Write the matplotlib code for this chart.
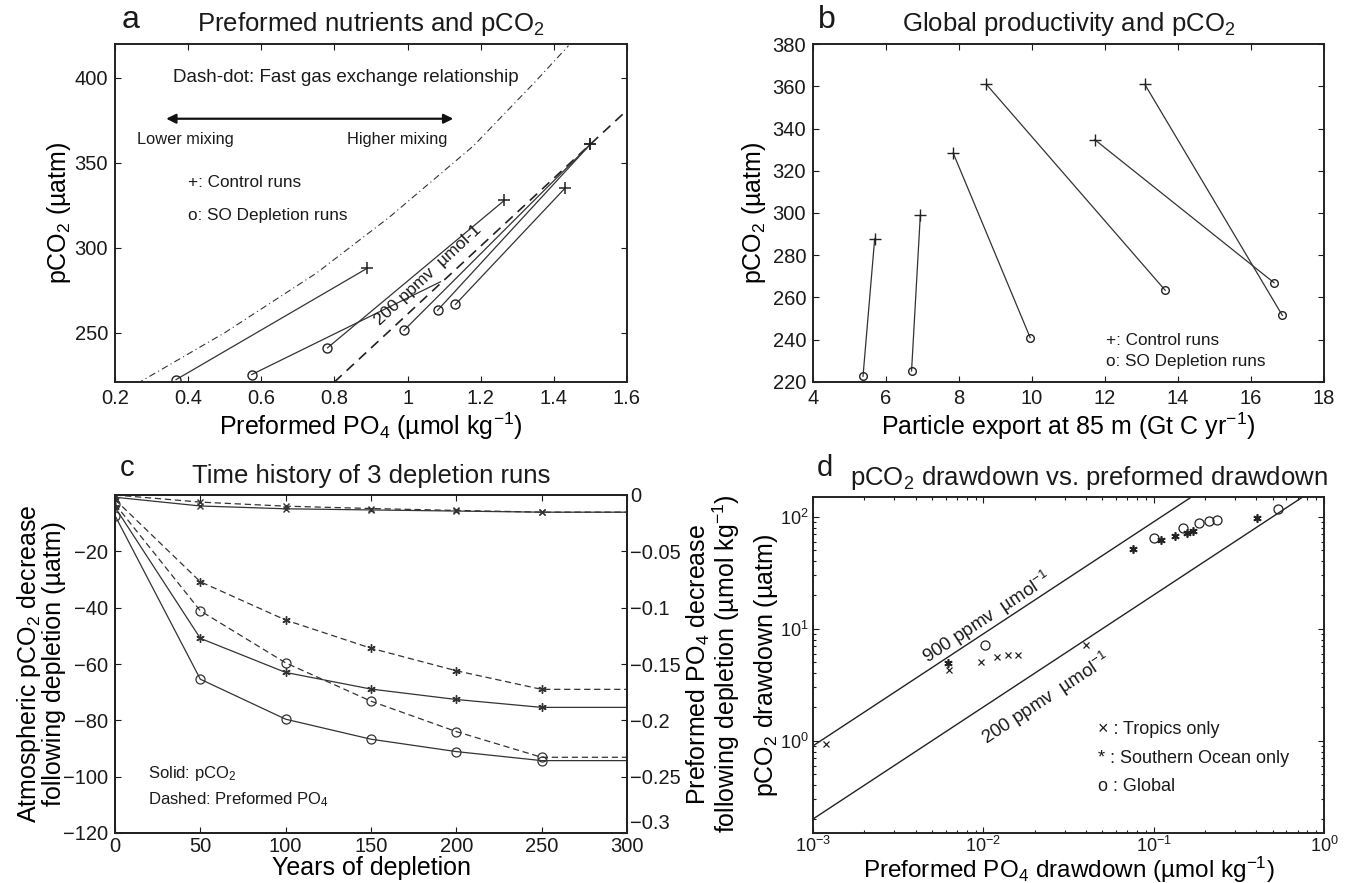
import numpy as np
import matplotlib
matplotlib.use("Agg")
import matplotlib.pyplot as plt

plt.rcParams['font.family'] = ['Liberation Sans', 'DejaVu Sans']
plt.rcParams['mathtext.fontset'] = 'custom'
plt.rcParams['mathtext.rm'] = 'Liberation Sans'
plt.rcParams['mathtext.it'] = 'Liberation Sans:italic'
plt.rcParams['mathtext.bf'] = 'Liberation Sans:bold'
plt.rcParams['xtick.direction'] = 'in'
plt.rcParams['ytick.direction'] = 'in'
plt.rcParams['axes.linewidth'] = 1.4
plt.rcParams['text.color'] = '#1a1a1a'

TXT = '#1a1a1a'
LC = '#333333'
MU = '\u00b5'

# ---------------- Panel a data ----------------
a_ctrl_po4 = [0.89, 1.09, 1.265, 1.50, 1.50, 1.43]
a_ctrl_pco2 = [288, 280, 328, 361, 361, 335]
a_ctrl_marked = [True, False, True, True, True, True]
a_depl_po4 = [0.367, 0.574, 0.781, 0.990, 1.082, 1.131]
a_depl_pco2 = [222.4, 225.4, 241.1, 251.4, 263.2, 266.7]
a_fast_po4 = [0.26, 0.50, 0.75, 0.95, 1.18, 1.35, 1.44]
a_fast_pco2 = [220, 250, 285, 318, 360, 398, 419]
a_line200_po4 = [0.80, 1.60]
a_line200_pco2 = [221, 381]

# ---------------- Panel b data ----------------
b_ctrl_export = [5.69, 6.94, 7.84, 8.75, 11.72, 13.09]
b_ctrl_pco2 = [287.8, 298.9, 328.4, 360.9, 334.7, 360.9]
b_depl_export = [5.37, 6.70, 9.95, 13.65, 16.63, 16.86]
b_depl_pco2 = [222.7, 225.2, 241.0, 263.4, 267.0, 251.5]

# ---------------- Panel c data ----------------
c_years = [0, 50, 100, 150, 200, 250, 300]
c_trop_pco2 = [-0.8, -3.9, -4.9, -5.3, -5.7, -6.1, -6.1]
c_so_pco2 = [-4.3, -50.9, -63.0, -68.9, -72.6, -75.4, -75.4]
c_glob_pco2 = [-7.3, -65.4, -79.6, -86.7, -91.1, -94.3, -94.3]
c_trop_po4 = [0.0, -0.0063, -0.0099, -0.0120, -0.0137, -0.0152, -0.0152]
c_so_po4 = [-0.004, -0.077, -0.111, -0.136, -0.156, -0.1725, -0.1725]
c_glob_po4 = [-0.008, -0.1028, -0.149, -0.183, -0.210, -0.2328, -0.2328]

# ---------------- Panel d data ----------------
d_trop_po4 = [0.0012, 0.0063, 0.0097, 0.0121, 0.0140, 0.0159, 0.0399]
d_trop_pco2 = [0.93, 4.3, 5.0, 5.6, 5.8, 5.8, 7.1]
d_so_po4 = [0.0062, 0.076, 0.111, 0.134, 0.157, 0.170, 0.402]
d_so_pco2 = [4.9, 51, 62, 67, 72, 74, 97]
d_glob_po4 = [0.0102, 0.1005, 0.148, 0.184, 0.210, 0.235, 0.54]
d_glob_pco2 = [7.2, 64.6, 80, 87, 92, 93, 118]
d_ref_po4 = [0.001, 1.0]
d_ref_slopes = [900, 200]

W, H = 1350, 883
fig = plt.figure(figsize=(W / 100, H / 100), dpi=100)

TITLE_FS = 18.5
LABEL_FS = 18
TICK_FS = 14.5


def box(x0, y0, x1, y1):
    return [x0 / W, 1 - y1 / H, (x1 - x0) / W, (y1 - y0) / H]


def style(ax, fs=TICK_FS, pad=5):
    ax.tick_params(which='both', top=True, right=True, labelsize=fs, colors=TXT,
                   length=4, width=0.8, pad=pad)
    ax.tick_params(which='minor', length=2.5)
    for s in ax.spines.values():
        s.set_color('#222222')


# ================= Panel a =================
axa = fig.add_axes(box(115, 44, 627, 382))
axa.plot(a_fast_po4, a_fast_pco2, color=LC, lw=0.8, ls=(0, (6, 3, 1, 3)))
axa.plot(a_line200_po4, a_line200_pco2, color='#222222', lw=1.2, ls=(0, (6, 4)))
for i in range(len(a_ctrl_po4)):
    axa.plot([a_depl_po4[i], a_ctrl_po4[i]], [a_depl_pco2[i], a_ctrl_pco2[i]],
             color=LC, lw=0.9)
axa.plot([p for p, m in zip(a_ctrl_po4, a_ctrl_marked) if m],
         [c for c, m in zip(a_ctrl_pco2, a_ctrl_marked) if m], ls='none',
         marker='+', ms=9, mew=1.1, color='#222222')
axa.plot(a_depl_po4, a_depl_pco2, ls='none', marker='o', ms=6.5, mfc='none',
         mew=1.0, color='#222222')
axa.set_xlim(0.2, 1.6)
axa.set_ylim(221, 420)
axa.set_xticks(np.arange(0.2, 1.61, 0.2))
axa.set_xticklabels(['0.2', '0.4', '0.6', '0.8', '1', '1.2', '1.4', '1.6'])
axa.set_yticks([250, 300, 350, 400])
style(axa)
axa.set_xlabel('Preformed PO$_4$ (' + MU + 'mol kg$^{-1}$)', fontsize=LABEL_FS,
               labelpad=2)
axa.set_ylabel('pCO$_2$ (' + MU + 'atm)', fontsize=LABEL_FS)
axa.yaxis.set_label_coords(-0.082, 0.5)
axa.set_title('Preformed nutrients and pCO$_2$', fontsize=TITLE_FS, pad=9)
axa.text(0.358, 400, 'Dash-dot: Fast gas exchange relationship', fontsize=13.5,
         va='center', ha='left')
axa.annotate('', xy=(0.34, 376), xytext=(1.125, 376),
             arrowprops=dict(arrowstyle='<|-|>', color='#111111', lw=1.6,
                             mutation_scale=14, shrinkA=0, shrinkB=0))
axa.text(0.26, 364, 'Lower mixing', fontsize=11.8, va='center', ha='left')
axa.text(1.11, 364, 'Higher mixing', fontsize=11.8, va='center', ha='right')
axa.text(0.40, 338.5, '+: Control runs', fontsize=12.3, va='center', ha='left')
axa.text(0.40, 319, 'o: SO Depletion runs', fontsize=12.3, va='center', ha='left')
p0 = axa.transData.transform((a_line200_po4[0], a_line200_pco2[0]))
p1 = axa.transData.transform((a_line200_po4[1], a_line200_pco2[1]))
ang_a = np.degrees(np.arctan2(p1[1] - p0[1], p1[0] - p0[0]))
axa.text(1.055, 284, '200 ppmv  ' + MU + 'mol-1', fontsize=12.5, rotation=ang_a,
         ha='center', va='center', rotation_mode='anchor')

# ================= Panel b =================
axb = fig.add_axes(box(813, 44, 1324, 382))
for i in range(len(b_ctrl_export)):
    axb.plot([b_ctrl_export[i], b_depl_export[i]], [b_ctrl_pco2[i], b_depl_pco2[i]],
             color=LC, lw=0.9)
axb.plot(b_ctrl_export, b_ctrl_pco2, ls='none', marker='+', ms=8, mew=1.0,
         color='#222222')
axb.plot(b_depl_export, b_depl_pco2, ls='none', marker='o', ms=5.5, mfc='none',
         mew=1.0, color='#222222')
axb.set_xlim(4, 18)
axb.set_ylim(220, 380)
axb.set_xticks(range(4, 19, 2))
axb.set_yticks(range(220, 381, 20))
style(axb)
axb.set_xlabel('Particle export at 85 m (Gt C yr$^{-1}$)', fontsize=LABEL_FS,
               labelpad=2)
axb.set_ylabel('pCO$_2$ (' + MU + 'atm)', fontsize=LABEL_FS)
axb.yaxis.set_label_coords(-0.088, 0.5)
axb.set_title('Global productivity and pCO$_2$', fontsize=TITLE_FS, pad=9)
axb.text(12.03, 239.7, '+: Control runs', fontsize=12.3, va='center', ha='left')
axb.text(12.03, 229.5, 'o: SO Depletion runs', fontsize=12.3, va='center',
         ha='left')

# ================= Panel c =================
axc = fig.add_axes(box(115, 495, 627, 833))
axc2 = axc.twinx()
mk = dict(markevery=[0, 1, 2, 3, 4, 5])
axc.plot(c_years, c_trop_pco2, color=LC, lw=0.9, marker='x', ms=5, mew=1.0, **mk)
axc.plot(c_years, c_so_pco2, color=LC, lw=0.9, marker=(6, 2, 0), ms=6, mew=1.0,
         **mk)
axc.plot(c_years, c_glob_pco2, color=LC, lw=0.9, marker='o', ms=6.5, mfc='none',
         mew=0.9, **mk)
axc2.plot(c_years, c_trop_po4, color=LC, lw=0.9, ls=(0, (5, 3)), marker='x', ms=5,
          mew=1.0, **mk)
axc2.plot(c_years, c_so_po4, color=LC, lw=0.9, ls=(0, (5, 3)), marker=(6, 2, 0),
          ms=6, mew=1.0, **mk)
axc2.plot(c_years, c_glob_po4, color=LC, lw=0.9, ls=(0, (5, 3)), marker='o',
          ms=6.5, mfc='none', mew=0.9, **mk)
axc.set_xlim(0, 300)
axc.set_ylim(-120, 0)
axc2.set_ylim(-0.3, 0)
axc.set_xticks(range(0, 301, 50))
axc.set_yticks(range(-120, 1, 20))
axc.set_yticklabels(['\u2212120', '\u2212100', '\u221280', '\u221260', '\u221240',
                     '\u221220', ''])
axc2.set_yticks([-0.3, -0.25, -0.2, -0.15, -0.1, -0.05, 0])
axc2.set_yticklabels(['\u22120.3', '\u22120.25', '\u22120.2', '\u22120.15',
                      '\u22120.1', '\u22120.05', '0'])
axc.tick_params(which='both', top=True, right=False, labelsize=TICK_FS, colors=TXT,
                length=4, width=0.8)
axc.tick_params(axis='x', pad=3)
axc.tick_params(axis='y', pad=5)
axc2.tick_params(which='both', labelsize=TICK_FS, colors=TXT, length=4, width=0.8,
                 pad=2)
axc2.get_yticklabels()[0].set_verticalalignment('bottom')
for s in list(axc.spines.values()) + list(axc2.spines.values()):
    s.set_color('#222222')
axc.set_xlabel('Years of depletion', fontsize=LABEL_FS, labelpad=0)
axc.set_ylabel('Atmospheric pCO$_2$ decrease\nfollowing depletion (' + MU + 'atm)',
               fontsize=LABEL_FS, linespacing=0.95)
axc.yaxis.set_label_coords(-0.096, 0.5)
axc2.set_ylabel('Preformed PO$_4$ decrease\nfollowing depletion (' + MU +
                'mol kg$^{-1}$)', fontsize=LABEL_FS, linespacing=0.95)
axc2.yaxis.set_label_coords(1.112, 0.5)
axc.set_title('Time history of 3 depletion runs', fontsize=TITLE_FS, pad=9)
axc.text(19.6, -98.7, 'Solid: pCO$_2$', fontsize=12, va='center', ha='left')
axc.text(19.6, -108.2, 'Dashed: Preformed PO$_4$', fontsize=12, va='center',
         ha='left')

# ================= Panel d =================
axd = fig.add_axes(box(813, 497, 1324, 833))
axd.set_xscale('log')
axd.set_yscale('log')
axd.set_xlim(1e-3, 1)
axd.set_ylim(0.15, 150)
for s in d_ref_slopes:
    axd.plot(d_ref_po4, [s * x for x in d_ref_po4], color='#222222', lw=1.0)
axd.plot(d_trop_po4, d_trop_pco2, ls='none', marker='x', ms=4.5, mew=0.9,
         color='#222222')
axd.plot(d_so_po4, d_so_pco2, ls='none', marker=(6, 2, 0), ms=6, mew=1.2,
         color='#222222')
axd.plot(d_glob_po4, d_glob_pco2, ls='none', marker='o', ms=6.5, mfc='none',
         mew=0.9, color='#222222')
style(axd, fs=13, pad=3)
axd.tick_params(axis='x', pad=2)
axd.set_xlabel('Preformed PO$_4$ drawdown (' + MU + 'mol kg$^{-1}$)',
               fontsize=17.5)
axd.xaxis.set_label_coords(0.5, -0.064)
axd.set_ylabel('pCO$_2$ drawdown (' + MU + 'atm)', fontsize=LABEL_FS, labelpad=0)
axd.set_title('pCO$_2$ drawdown vs. preformed drawdown', fontsize=TITLE_FS, pad=9,
              x=0.54)
q0 = axd.transData.transform((1e-3, 0.9))
q1 = axd.transData.transform((0.1, 90))
ang_d = np.degrees(np.arctan2(q1[1] - q0[1], q1[0] - q0[0]))
axd.text(0.0105, 12.6, '900 ppmv  ' + MU + 'mol$^{-1}$', fontsize=13.5,
         rotation=ang_d, ha='center', va='center', rotation_mode='anchor')
axd.text(0.0233, 2.38, '200 ppmv  ' + MU + 'mol$^{-1}$', fontsize=13.5,
         rotation=ang_d, ha='center', va='center', rotation_mode='anchor')
axd.text(0.047, 1.25, '\u00d7 : Tropics only', fontsize=13, va='center', ha='left')
axd.text(0.047, 0.69, '* : Southern Ocean only', fontsize=13, va='center',
         ha='left')
axd.text(0.047, 0.39, 'o : Global', fontsize=13, va='center', ha='left')

# panel letters
fig.text(122 / W, 1 - 20 / H, 'a', fontsize=23, ha='left', va='center')
fig.text(818 / W, 1 - 20 / H, 'b', fontsize=23, ha='left', va='center')
fig.text(120 / W, 1 - 468 / H, 'c', fontsize=21, ha='left', va='center')
fig.text(817 / W, 1 - 468 / H, 'd', fontsize=21, ha='left', va='center')

fig.savefig('out.png', dpi=100)
